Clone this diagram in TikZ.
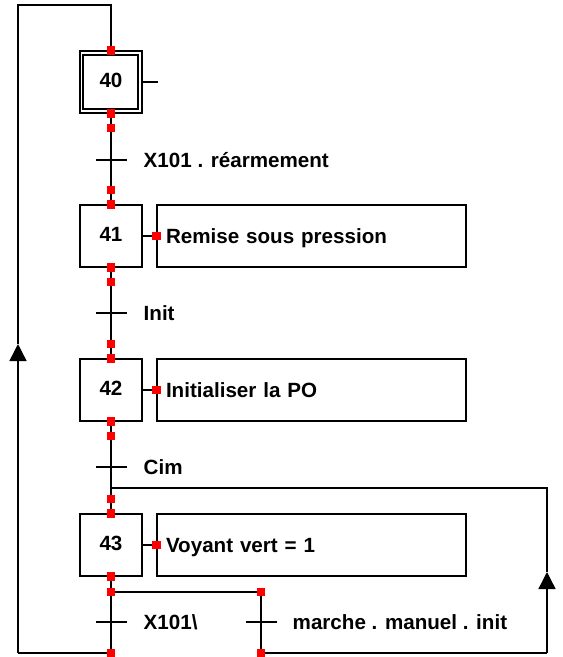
\documentclass[tikz,border=0pt]{standalone}
\usepackage{fontspec}
\setmainfont{Liberation Sans}
\usetikzlibrary{arrows.meta}
\begin{document}
\begin{tikzpicture}[x=1pt,y=-1pt,line width=1.4pt,
  every node/.style={font=\fontsize{20.6}{24}\selectfont\bfseries},
  stepbox/.style={draw,minimum width=62pt,minimum height=62pt,inner sep=0pt,
    text height=14.7pt,text depth=4.7pt},
  innerbox/.style={draw,minimum width=55pt,minimum height=54pt,inner sep=0pt},
  actbox/.style={draw,minimum width=309pt,minimum height=62pt,inner xsep=9pt,
    inner ysep=0pt,text width=291pt,align=left,text height=14.7pt,text depth=0pt},
  pin/.style={fill=red,draw=none,minimum size=8.5pt,inner sep=0pt},
  lbl/.style={anchor=west,inner sep=0pt,text height=14.7pt,text depth=0pt},
  uparrow/.style={-{Triangle[length=17pt,width=17pt]}}
]
\useasboundingbox (0,0) rectangle (563,657);

% steps
\node[stepbox] (s40) at (111,82) {40};
\node[innerbox] (s40i) at (110.5,82) {};
\node[stepbox] (s41) at (111,236) {41};
\node[stepbox] (s42) at (111,390) {42};
\node[stepbox] (s43) at (111,545) {43};

% actions
\node[actbox] (a41) at (311.5,236) {Remise sous pression};
\node[actbox] (a42) at (311.5,390) {Initialiser la PO};
\node[actbox] (a43) at (311.5,545) {Voyant vert = 1};

% routing points
\coordinate (tick40) at (158,82);
\coordinate (tr) at (111,5);
\coordinate (tl) at (18,5);
\coordinate (al) at (18,344);
\coordinate (bl) at (18,653);
\coordinate (jn) at (111,488);
\coordinate (rt) at (547,488);
\coordinate (ar) at (547,572);
\coordinate (br) at (547,653);
\coordinate (dl) at (111,592);
\coordinate (dr) at (261,592);
\coordinate (el) at (111,653);
\coordinate (er) at (261,653);

% transition bars
\coordinate (t1a) at (96,160);  \coordinate (t1b) at (127,160);
\coordinate (t2a) at (96,313);  \coordinate (t2b) at (127,313);
\coordinate (t3a) at (96,467);  \coordinate (t3b) at (127,467);
\coordinate (t4a) at (96,622);  \coordinate (t4b) at (127,622);
\coordinate (t5a) at (246,622); \coordinate (t5b) at (277,622);

% links
\draw (s40.south) -- (s41.north);
\draw (s41.south) -- (s42.north);
\draw (s42.south) -- (s43.north);
\draw (s43.south) -- (el);
\draw (dl) -- (dr) -- (er);
\draw (s40.east) -- (tick40);
\draw (s41.east) -- (a41.west);
\draw (s42.east) -- (a42.west);
\draw (s43.east) -- (a43.west);
\draw (t1a) -- (t1b);
\draw (t2a) -- (t2b);
\draw (t3a) -- (t3b);
\draw (t4a) -- (t4b);
\draw (t5a) -- (t5b);

% loop back to step 40
\draw (el) -- (bl);
\draw[uparrow] (bl) -- (al);
\draw (al) -- (tl) -- (tr) -- (s40.north);

% loop back to step 43
\draw (er) -- (br);
\draw[uparrow] (br) -- (ar);
\draw (ar) -- (rt) -- (jn);

% connection pins, drawn over the lines
\node[pin] (q40n) at (s40.north) {};
\node[pin] (q40s) at (s40.south) {};
\node[pin] (p1) at (111,128) {};
\node[pin] (p2) at (111,190) {};
\node[pin] (q41n) at (s41.north) {};
\node[pin] (q41e) at (a41.west) {};
\node[pin] (q41s) at (s41.south) {};
\node[pin] (p3) at (111,282) {};
\node[pin] (p4) at (111,344) {};
\node[pin] (q42n) at (s42.north) {};
\node[pin] (q42e) at (a42.west) {};
\node[pin] (q42s) at (s42.south) {};
\node[pin] (p5) at (111,436) {};
\node[pin] (p6) at (111,499) {};
\node[pin] (q43n) at (s43.north) {};
\node[pin] (q43e) at (a43.west) {};
\node[pin] (q43s) at (s43.south) {};
\node[pin] (p7) at (dl) {};
\node[pin] (p8) at (dr) {};
\node[pin] (p9) at (el) {};
\node[pin] (p10) at (er) {};

% transition labels
\node[lbl] (c1) at (143,160) {X101 . réarmement};
\node[lbl] (c2) at (143,313) {Init};
\node[lbl] (c3) at (143,467) {Cim};
\node[lbl] (c4) at (143,622) {X101\textbackslash};
\node[lbl] (c5) at (292,622) {marche . manuel . init};
\end{tikzpicture}
\end{document}
